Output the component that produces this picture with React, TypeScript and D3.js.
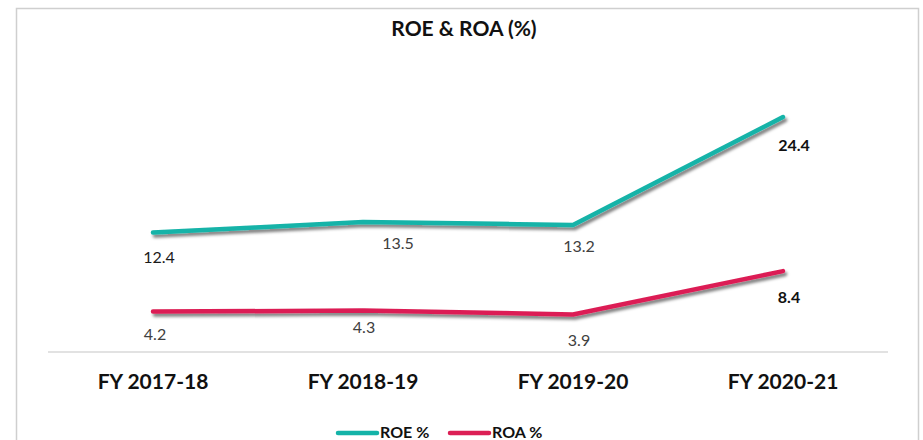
import React from "react";
import * as d3 from "d3";

const categories = ["FY 2017-18", "FY 2018-19", "FY 2019-20", "FY 2020-21"];
const roeValues = [12.4, 13.5, 13.2, 24.4];
const roaValues = [4.2, 4.3, 3.9, 8.4];
const seriesNames = ["ROE %", "ROA %"];
const title = "ROE & ROA (%)";

// label placement offsets (px) relative to each point
const roeLabelDx = [6, 35, 6, 11];
const roeLabelDy = [30, 27, 27, 34];
const roaLabelDx = [2, 1, 6, 6];
const roaLabelDy = [28, 22, 32, 32];
const roeLabelBold = [false, false, false, true];
const roaLabelBold = [false, false, false, true];

const W = 923;
const H = 440;
const FONT = "Lato, 'Open Sans', sans-serif";
const TEAL = "#14b3a8";
const RED = "#dc1f55";

export default function App() {
  const x = d3.scaleBand<string>().domain(categories).range([48, 888]).padding(0);
  const y = d3.scaleLinear().domain([0, 30]).range([352, 352 - 30 * 9.63]);
  const cx = (c: string) => (x(c) as number) + x.bandwidth() / 2;

  const line = d3
    .line<number>()
    .x((_, i) => cx(categories[i]))
    .y((d) => y(d));

  const series = [
    { name: seriesNames[0], values: roeValues, color: TEAL, dx: roeLabelDx, dy: roeLabelDy, bold: roeLabelBold },
    { name: seriesNames[1], values: roaValues, color: RED, dx: roaLabelDx, dy: roaLabelDy, bold: roaLabelBold },
  ];

  return (
    <svg
      width={W}
      height={H}
      style={{ position: "fixed", left: 0, top: 0, background: "#fff" }}
      fontFamily={FONT}
    >
      <defs>
        <filter id="shadow" x="-10%" y="-50%" width="120%" height="200%">
          <feDropShadow dx="2" dy="3" stdDeviation="1.6" floodColor="#000" floodOpacity="0.5" />
        </filter>
      </defs>
      <rect x={0} y={0} width={W} height={H} fill="#fff" />
      <rect x={16.5} y={8.5} width={902} height={460} fill="none" stroke="#cfcfcf" strokeWidth={1.5} />
      <text x={464} y={36} textAnchor="middle" fontSize={21} fontWeight="bold" fill="#111">
        {title}
      </text>
      {/* x axis line */}
      <line x1={x.range()[0]} x2={x.range()[1]} y1={y(0)} y2={y(0)} stroke="#d9d9d9" strokeWidth={1.5} />
      {categories.map((c) => (
        <text key={c} x={cx(c)} y={389} textAnchor="middle" fontSize={21} fontWeight="bold" fill="#111">
          {c}
        </text>
      ))}
      {series.map((s) => (
        <g key={s.name}>
          <path
            d={line(s.values) || ""}
            fill="none"
            stroke={s.color}
            strokeWidth={4.5}
            strokeLinecap="round"
            strokeLinejoin="round"
            filter="url(#shadow)"
          />
          {s.values.map((v, i) => (
            <text
              key={i}
              x={cx(categories[i]) + s.dx[i]}
              y={y(v) + s.dy[i]}
              textAnchor="middle"
              fontSize={16}
              fontWeight={s.bold[i] ? "bold" : "normal"}
              fill={s.bold[i] ? "#111" : i === 0 && s.name === seriesNames[0] ? "#1a1a1a" : "#404040"}
            >
              {v.toFixed(1)}
            </text>
          ))}
        </g>
      ))}
      {/* legend */}
      {series.map((s, i) => {
        const lx = i === 0 ? 338 : 450;
        return (
          <g key={s.name}>
            <line x1={lx} x2={lx + 39} y1={433} y2={433} stroke={s.color} strokeWidth={4.5} strokeLinecap="round" />
            <text x={lx + 42} y={437.5} fontSize={16} fontWeight="bold" fill="#111">
              {s.name}
            </text>
          </g>
        );
      })}
    </svg>
  );
}
